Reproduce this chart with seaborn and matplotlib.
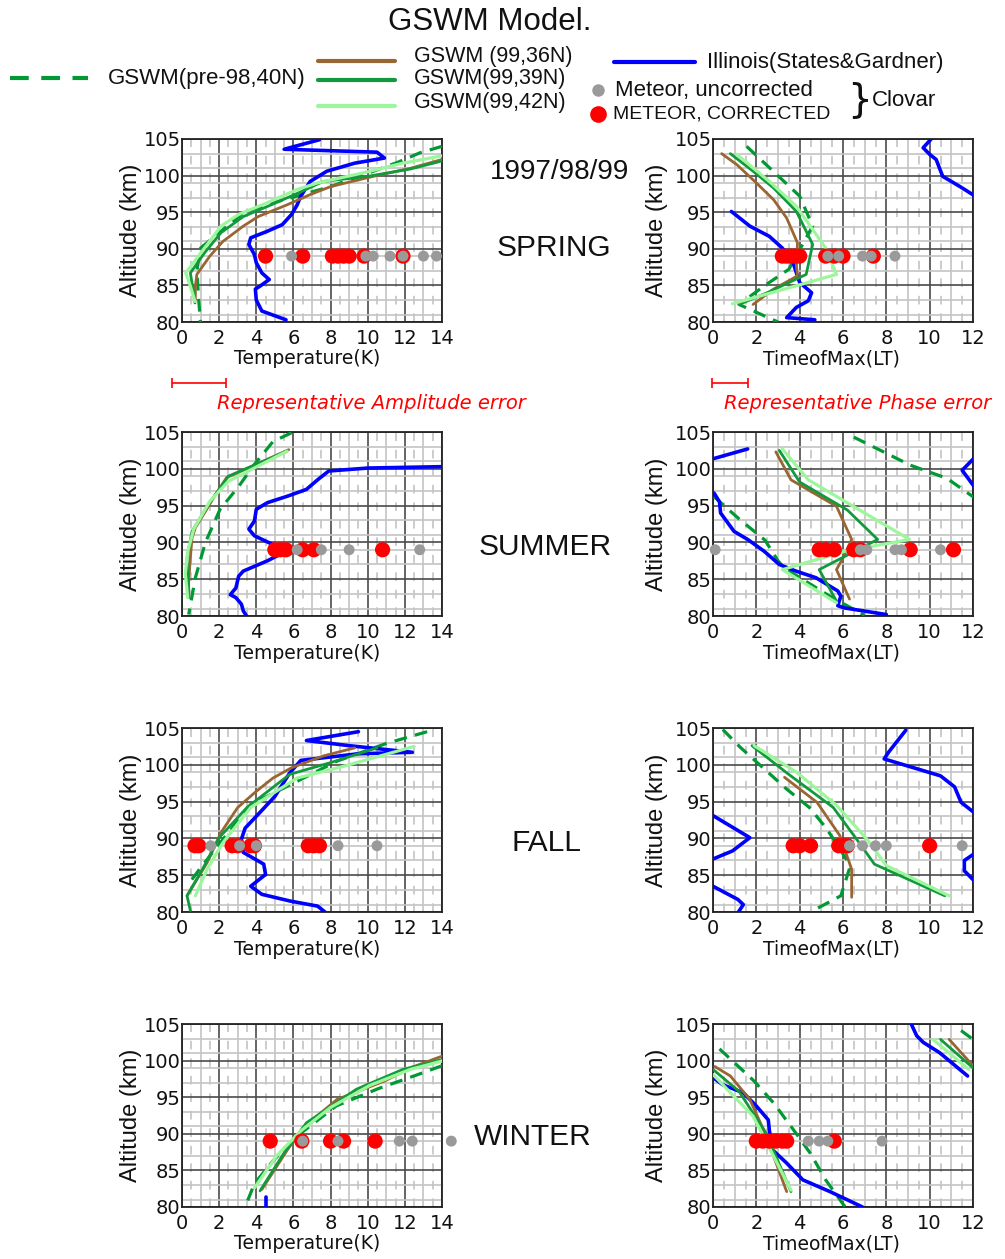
import numpy as np
import matplotlib
matplotlib.use("Agg")
import matplotlib.pyplot as plt
from matplotlib import font_manager
from matplotlib.ticker import MultipleLocator, FixedLocator
import seaborn as sns

# ------------------------------------------------------------------
# Profiles: (value, altitude km). Each series is a list of segments.
# Amplitude panels: Temperature (K); phase panels: Time of Max (LT)
# ------------------------------------------------------------------
METEOR_ALT = 89.0

# ---- SPRING ----
spr_amp_illinois = [[(7.4, 104.9), (5.5, 103.6), (10.5, 103.2), (10.9, 102.4), (9.3, 101.7),
                     (7.8, 100.6), (6.9, 99.2), (6.4, 97.2), (6.2, 96.0), (5.9, 94.7), (5.4, 93.3),
                     (4.6, 92.4), (3.7, 91.5), (3.6, 90.6), (3.9, 89.2), (4.0, 88.1), (4.3, 86.7),
                     (4.7, 85.8), (4.2, 84.9), (3.95, 84.5), (4.0, 83.0), (4.3, 81.5), (5.6, 80.3)]]
spr_amp_36n = [[(14.0, 102.2), (12.3, 101.0), (10.3, 99.9), (8.0, 98.5), (6.9, 97.4), (5.65, 96.0),
                (4.1, 94.4), (3.3, 93.1), (2.2, 91.0), (1.5, 89.0), (0.8, 86.5), (0.72, 84.9),
                (0.72, 83.0)]]
spr_amp_39n = [[(14.0, 102.0), (12.3, 100.9), (10.0, 99.9), (7.6, 99.2), (6.5, 97.9), (4.8, 96.0),
                (3.3, 94.4), (2.1, 92.2), (1.2, 89.4), (0.45, 86.7), (0.6, 84.4), (0.7, 82.6)]]
spr_amp_42n = [[(14.0, 102.7), (11.9, 101.7), (9.8, 100.4), (7.3, 99.0), (6.2, 98.1), (4.6, 96.3),
                (3.05, 94.7), (2.1, 93.1), (1.0, 89.4), (0.2, 86.7), (0.45, 84.9), (0.7, 82.8)]]
spr_amp_pre98 = [[(14.0, 104.0), (12.8, 103.1), (11.6, 101.8), (10.1, 100.4), (8.0, 98.5),
                  (6.2, 97.2), (4.5, 96.0), (3.3, 94.9), (2.2, 92.6), (1.0, 90.1), (0.8, 87.0),
                  (0.9, 83.0), (1.0, 79.9)]]
spr_amp_red = [4.5, 6.5, 8.1, 8.4, 8.7, 9.0, 9.8, 11.9]
spr_amp_gray = [5.9, 9.9, 10.3, 11.2, 11.9, 13.0, 13.7]

spr_ph_illinois = [[(10.1, 105.1), (9.7, 103.8), (10.0, 102.9), (10.3, 102.2), (10.6, 99.9),
                    (11.4, 98.5), (12.2, 97.0)],
                   [(0.85, 95.1), (1.7, 93.1), (2.6, 91.7), (3.2, 90.1), (3.7, 88.1), (3.85, 86.7),
                    (4.0, 85.4), (4.55, 84.0), (4.4, 82.9), (3.85, 82.0), (3.4, 80.6), (4.7, 80.3)]]
spr_ph_36n = [[(0.4, 103.0), (1.1, 101.5), (2.0, 99.0), (2.8, 96.7), (3.4, 94.2), (3.9, 90.8),
               (3.85, 87.6), (3.9, 86.3), (2.8, 84.5), (1.85, 82.4)]]
spr_ph_39n = [[(0.8, 103.0), (1.85, 100.6), (2.8, 98.3), (3.85, 95.1), (4.6, 90.6), (4.3, 86.5),
               (2.5, 84.0), (1.2, 82.4)]]
spr_ph_42n = [[(1.1, 102.9), (2.6, 99.2), (3.85, 95.8), (5.2, 90.1), (5.7, 86.5), (0.9, 82.5)]]
spr_ph_pre98 = [[(1.55, 104.0), (3.1, 99.7), (4.0, 97.2), (4.6, 93.1), (3.5, 87.2), (2.4, 85.0),
                 (1.2, 82.4), (3.0, 80.0)]]
spr_ph_red = [3.2, 3.4, 3.6, 3.8, 4.0, 5.2, 5.6, 6.0, 7.4]
spr_ph_gray = [5.3, 5.8, 6.9, 7.3, 8.4]

# ---- SUMMER ----
sum_amp_illinois = [[(14.2, 100.3), (10.0, 100.1), (7.9, 99.7), (7.3, 98.5), (6.7, 97.2), (5.7, 96.3),
                     (4.6, 95.4), (4.0, 94.5), (3.9, 92.9), (3.6, 91.8), (3.9, 90.9), (4.9, 89.7),
                     (5.3, 88.4), (4.6, 87.5), (3.3, 86.1), (3.05, 85.4), (2.9, 83.8), (2.6, 82.9),
                     (2.9, 82.5), (3.2, 81.6), (3.3, 80.7), (3.5, 79.9)]]
sum_amp_36n = [[(5.75, 102.6), (2.4, 98.8), (1.8, 96.5), (1.26, 94.2), (0.72, 92.0), (0.54, 90.6),
                (0.45, 87.9), (0.36, 84.7), (0.36, 82.5)]]
sum_amp_39n = [[(5.66, 102.4), (2.5, 99.0), (1.35, 94.9), (0.54, 91.5), (0.27, 87.9), (0.36, 82.5)]]
sum_amp_42n = [[(5.66, 102.4), (2.5, 98.3), (1.5, 95.6), (0.63, 91.8), (0.31, 88.8), (0.18, 85.7),
                (0.31, 82.5)]]
sum_amp_pre98 = [[(5.9, 104.9), (4.9, 103.7), (3.9, 100.6), (3.05, 97.6), (2.05, 94.5), (1.26, 90.0),
                  (0.72, 85.2), (0.36, 80.2)]]
sum_amp_red = [5.0, 5.3, 5.6, 6.5, 7.1, 10.8]
sum_amp_gray = [6.2, 7.5, 9.0, 12.8]

sum_ph_illinois = [[(0.05, 101.4), (1.6, 102.7)],
                   [(12.1, 101.6), (11.5, 99.8), (12.1, 97.4)],
                   [(0.05, 96.7), (0.3, 95.5), (0.35, 94.0), (0.97, 91.5), (1.6, 90.4), (2.36, 88.8),
                    (3.06, 87.0), (3.83, 86.1), (4.75, 85.2), (5.76, 83.4), (5.9, 82.7), (5.76, 81.4),
                    (6.06, 81.1), (8.0, 80.2)]]
sum_ph_36n = [[(2.9, 102.3), (3.6, 98.5), (5.7, 94.9), (6.4, 90.4), (6.0, 87.9), (5.7, 86.3),
               (6.3, 82.3)]]
sum_ph_39n = [[(3.06, 102.5), (4.0, 98.2), (6.2, 94.4), (7.6, 90.4), (4.9, 86.3), (5.7, 82.0)]]
sum_ph_42n = [[(3.2, 102.7), (4.4, 98.5), (9.07, 90.4), (6.1, 88.8), (3.2, 86.3), (5.7, 81.8)]]
sum_ph_pre98 = [[(6.5, 104.3), (9.1, 100.5), (10.8, 98.7), (12.1, 96.0)],
                [(0.05, 96.2), (1.2, 93.2), (2.4, 90.3), (3.0, 87.5), (3.3, 86.5), (5.5, 82.5),
                 (7.0, 80.1)]]
sum_ph_red = [4.9, 5.2, 5.6, 6.5, 6.8, 9.1, 11.1]
sum_ph_gray = [0.1, 6.8, 7.1, 8.4, 8.7, 10.5]

# ---- FALL ----
fal_amp_illinois = [[(9.5, 104.5), (6.7, 103.3), (9.0, 102.6), (12.4, 101.7), (9.5, 101.5),
                     (6.4, 100.6), (5.8, 98.9), (5.0, 95.7), (4.0, 93.0), (3.4, 91.4), (3.2, 89.9),
                     (3.3, 88.1), (4.4, 86.5), (4.5, 85.1), (3.7, 83.5), (4.3, 82.4), (5.8, 81.5),
                     (7.3, 80.8), (7.7, 80.0)]]
fal_amp_36n = [[(9.3, 102.3), (7.6, 101.2), (5.9, 99.6), (4.9, 98.2), (4.0, 96.4), (3.0, 94.2),
                (2.1, 90.8), (1.35, 86.7), (0.27, 82.2)]]
fal_amp_39n = [[(10.5, 102.3), (8.0, 100.3), (5.8, 98.7), (3.5, 94.2), (2.0, 90.1), (1.1, 85.8),
                (0.27, 82.2), (0.45, 80.2)]]
fal_amp_42n = [[(12.5, 102.5), (8.7, 99.8), (6.2, 98.2), (3.7, 94.2), (2.2, 89.4), (1.35, 85.8),
                (0.72, 82.2)]]
fal_amp_pre98 = [[(13.2, 104.5), (11.0, 102.9), (8.35, 100.5), (6.55, 98.2), (3.7, 94.6),
                  (2.06, 89.4), (1.0, 86.0), (0.5, 84.3)]]
fal_amp_red = [0.7, 0.9, 2.7, 3.0, 3.7, 3.9, 6.8, 7.1, 7.4]
fal_amp_gray = [1.55, 3.1, 4.0, 8.4, 10.5]

fal_ph_illinois = [[(8.9, 104.7), (8.1, 101.7), (7.9, 100.8), (10.5, 98.5), (11.15, 97.0),
                    (11.45, 94.9), (12.1, 93.4)],
                   [(0.0, 93.1), (1.7, 90.1), (0.9, 88.3), (0.0, 87.2)],
                   [(0.0, 83.5), (1.15, 81.7), (1.4, 81.0), (1.15, 79.9)],
                   [(12.1, 88.0), (11.6, 87.0), (11.6, 85.6), (12.1, 84.1)]]
fal_ph_36n = [[(3.3, 98.3), (4.8, 94.9), (5.85, 90.4), (6.4, 85.8), (6.4, 82.0)]]
fal_ph_39n = [[(1.8, 102.6), (3.45, 98.8), (5.55, 94.2), (6.8, 89.2), (7.45, 86.5), (10.7, 82.2)]]
fal_ph_42n = [[(1.9, 102.6), (3.85, 99.0), (5.7, 94.5), (7.1, 89.9), (8.0, 86.3), (10.9, 82.2)]]
fal_ph_pre98 = [[(0.45, 104.8), (1.25, 102.4), (3.4, 96.7), (4.45, 94.2), (5.25, 91.3), (6.15, 87.2),
                 (6.3, 85.9), (5.9, 82.2), (4.5, 80.0)]]
fal_ph_red = [3.7, 4.0, 4.5, 5.8, 6.0, 6.2, 10.0]
fal_ph_gray = [6.3, 6.9, 7.5, 8.0, 11.5]

# ---- WINTER ----
win_amp_illinois = [[(4.5, 81.4), (4.5, 80.1)]]
win_amp_36n = [[(14.1, 100.7), (12.4, 99.1), (10.9, 97.2), (8.35, 94.7), (6.55, 90.9), (5.7, 87.9),
                (4.3, 82.4)]]
win_amp_39n = [[(14.1, 100.2), (11.9, 98.8), (9.4, 96.1), (6.7, 91.5), (5.5, 87.4), (4.2, 82.2)]]
win_amp_42n = [[(14.1, 100.0), (12.3, 98.8), (10.1, 96.6), (8.0, 93.6), (6.4, 90.4), (5.1, 87.0),
                (3.9, 82.6)]]
win_amp_pre98 = [[(14.0, 99.3), (12.6, 98.0), (10.6, 96.2), (8.3, 93.8), (6.2, 89.7), (4.9, 86.3),
                  (3.9, 83.2), (3.4, 80.0)]]
win_amp_red = [4.75, 6.45, 8.0, 8.7, 10.4]
win_amp_gray = [6.5, 8.4, 11.7, 12.4, 14.5]

win_ph_illinois = [[(0.0, 97.7), (0.45, 96.7), (1.4, 95.6), (2.0, 93.8), (2.55, 91.9), (2.6, 90.5),
                    (2.75, 87.8), (3.4, 86.0), (4.15, 83.7), (5.4, 82.1), (6.9, 80.0)],
                   [(9.15, 105.0), (9.4, 103.4), (9.7, 102.5), (10.45, 101.1), (11.75, 97.9)]]
win_ph_36n = [[(0.08, 99.2), (0.8, 97.9), (1.7, 94.7), (2.4, 90.1), (3.4, 82.1)],
              [(10.9, 102.9), (12.0, 99.3)]]
win_ph_39n = [[(0.0, 98.8), (1.2, 95.8), (2.45, 90.1), (3.6, 82.1)],
              [(10.5, 102.9), (12.0, 99.0)]]
win_ph_42n = [[(0.0, 98.1), (1.85, 92.4), (3.6, 82.3)],
              [(10.15, 102.9), (11.8, 98.8)]]
win_ph_pre98 = [[(0.3, 101.6), (1.9, 97.2), (2.8, 94.2), (3.85, 90.0), (4.5, 87.3), (5.2, 83.7),
                 (6.1, 80.0)],
                [(11.45, 104.1), (12.0, 102.9)]]
win_ph_red = [2.0, 2.3, 2.6, 2.9, 3.2, 3.4, 5.6]
win_ph_gray = [4.4, 4.9, 5.3, 7.8]

# representative measurement errors
AMP_ERROR = 2.9     # K
PHASE_ERROR = 1.66  # hours

SEASONS = ["SPRING", "SUMMER", "FALL", "WINTER"]
ALT_TICKS = [80, 85, 90, 95, 100, 105]

# ------------------------------------------------------------------
# styling
# ------------------------------------------------------------------
C_36N = "#996633"
C_39N = "#119a3c"
C_42N = "#9cf79c"
C_PRE98 = "#009933"
C_ILL = "#0000ff"
C_GRAY = "#9a9a9a"
C_RED = "#ff0000"
MAJOR = "#4a4a4a"
MINOR = "#c4c4c4"

sns.set_style("white")
installed = {f.name for f in font_manager.fontManager.ttflist}
NARROW = "Liberation Sans Narrow" if "Liberation Sans Narrow" in installed else "Liberation Sans"
plt.rcParams["font.family"] = ["DejaVu Sans"]

W, H = 1005, 1259
fig = plt.figure(figsize=(W / 100, H / 100), dpi=100)
fig.patch.set_facecolor("white")


def px_axes(left, top, right, bottom):
    return fig.add_axes([left / W, 1 - bottom / H, (right - left) / W, (bottom - top) / H])


def draw_profiles(ax, segments, color, lw, ls="-"):
    for seg in segments:
        xs = [p[0] for p in seg]
        ys = [p[1] for p in seg]
        sns.lineplot(x=xs, y=ys, sort=False, estimator=None, color=color, lw=lw,
                     linestyle=ls, ax=ax, legend=False, zorder=3)


def draw_panel(ax, xmax, pre98, ill, m36, m39, m42, red, gray, xlabel, xlabel_x, ylabel_x):
    ax.set_xlim(0, xmax)
    ax.set_ylim(80, 105)
    ax.set_facecolor("white")
    # background grid: light minor lines, dashed half-steps, dark major lines
    ax.xaxis.set_major_locator(MultipleLocator(2))
    ax.yaxis.set_major_locator(FixedLocator(ALT_TICKS))
    ax.xaxis.set_minor_locator(MultipleLocator(1))
    ax.yaxis.set_minor_locator(FixedLocator(np.arange(81, 105, 2)))
    ax.grid(which="minor", color=MINOR, lw=1.2, zorder=0)
    ax.grid(which="major", color=MAJOR, lw=1.2, zorder=1)
    ax.vlines(np.arange(0.5, xmax, 1.0), 80, 105, colors=MINOR, lw=1.2,
              linestyles=(0, (5.2, 5.3)), zorder=0)
    ax.set_axisbelow(True)
    for s in ax.spines.values():
        s.set_color("#222222")
        s.set_linewidth(1.3)
        s.set_visible(True)
    ax.tick_params(which="both", length=0, labelsize=14, colors="#111111")
    ax.tick_params(axis="x", pad=5)
    ax.tick_params(axis="y", pad=1)

    draw_profiles(ax, pre98, C_PRE98, 2.3, (0, (4.0, 2.6)))
    draw_profiles(ax, ill, C_ILL, 2.6)
    draw_profiles(ax, m36, C_36N, 2.0)
    draw_profiles(ax, m39, C_39N, 2.0)
    draw_profiles(ax, m42, C_42N, 2.3)

    sns.scatterplot(x=red, y=[METEOR_ALT] * len(red), color=C_RED, s=120, marker="o",
                    edgecolor="none", ax=ax, legend=False, zorder=5, clip_on=False)
    sns.scatterplot(x=gray, y=[METEOR_ALT] * len(gray), color=C_GRAY, s=62, marker="o",
                    edgecolor="none", ax=ax, legend=False, zorder=6, clip_on=False)

    ax.set_xlabel(xlabel, fontsize=13.5, color="#111111")
    ax.xaxis.set_label_coords(xlabel_x, -0.15)
    ax.set_ylabel("Altitude (km)", fontsize=17, family=NARROW, color="#111111")
    ax.yaxis.set_label_coords(ylabel_x, 0.5)


rows = [(139, 322), (432, 616), (728, 912), (1024, 1207)]
amp_sets = [
    (spr_amp_pre98, spr_amp_illinois, spr_amp_36n, spr_amp_39n, spr_amp_42n, spr_amp_red, spr_amp_gray),
    (sum_amp_pre98, sum_amp_illinois, sum_amp_36n, sum_amp_39n, sum_amp_42n, sum_amp_red, sum_amp_gray),
    (fal_amp_pre98, fal_amp_illinois, fal_amp_36n, fal_amp_39n, fal_amp_42n, fal_amp_red, fal_amp_gray),
    (win_amp_pre98, win_amp_illinois, win_amp_36n, win_amp_39n, win_amp_42n, win_amp_red, win_amp_gray),
]
ph_sets = [
    (spr_ph_pre98, spr_ph_illinois, spr_ph_36n, spr_ph_39n, spr_ph_42n, spr_ph_red, spr_ph_gray),
    (sum_ph_pre98, sum_ph_illinois, sum_ph_36n, sum_ph_39n, sum_ph_42n, sum_ph_red, sum_ph_gray),
    (fal_ph_pre98, fal_ph_illinois, fal_ph_36n, fal_ph_39n, fal_ph_42n, fal_ph_red, fal_ph_gray),
    (win_ph_pre98, win_ph_illinois, win_ph_36n, win_ph_39n, win_ph_42n, win_ph_red, win_ph_gray),
]

amp_axes, ph_axes = [], []
for (top, bottom), aset, pset in zip(rows, amp_sets, ph_sets):
    a = px_axes(182, top, 442, bottom)
    draw_panel(a, 14, *aset, "Temperature(K)", 0.48, -0.155)
    amp_axes.append(a)
    p = px_axes(713, top, 973, bottom)
    draw_panel(p, 12, *pset, "TimeofMax(LT)", 0.455, -0.172)
    ph_axes.append(p)

# representative error bars under the spring panels
ERR_ALT = 71.7
amp_axes[0].errorbar(0.92, ERR_ALT, xerr=AMP_ERROR / 2, color=C_RED, lw=1.2, capsize=3.5,
                     capthick=1.2, clip_on=False, zorder=10)
ph_axes[0].errorbar(0.78, ERR_ALT, xerr=PHASE_ERROR / 2, color=C_RED, lw=1.2, capsize=3.5,
                    capthick=1.2, clip_on=False, zorder=10)

# ------------------------------------------------------------------
# figure-level text and legend (pixel coordinates)
# ------------------------------------------------------------------
lay = fig.add_axes([0, 0, 1, 1], zorder=-5)
lay.set_xlim(0, W)
lay.set_ylim(H, 0)
lay.axis("off")

TXT = "#111111"
lay.text(490, 22, "GSWM Model.", fontsize=22.5, family=NARROW, ha="center", va="center", color=TXT)

# legend keys
lay.plot([10, 88], [78, 78], color=C_PRE98, lw=3, linestyle=(0, (4.5, 3.0)))
lay.text(108, 78, "GSWM(pre-98,40N)", fontsize=16, family=NARROW, va="center", color=TXT)
lay.plot([318, 395], [61, 61], color=C_36N, lw=3)
lay.text(414, 56, "GSWM (99,36N)", fontsize=15.5, family=NARROW, va="center", color=TXT)
lay.plot([318, 395], [80, 80], color=C_39N, lw=3)
lay.text(414, 78, "GSWM(99,39N)", fontsize=15.5, family=NARROW, va="center", color=TXT)
lay.plot([318, 395], [106, 106], color=C_42N, lw=3)
lay.text(414, 102, "GSWM(99,42N)", fontsize=15.5, family=NARROW, va="center", color=TXT)
lay.plot([614, 695], [62, 62], color=C_ILL, lw=3)
lay.text(707, 62, "Illinois(States&Gardner)", fontsize=16, family=NARROW, va="center", color=TXT)
lay.plot([598], [90], marker="o", ms=9, color=C_GRAY, mec="none")
lay.text(615, 90, "Meteor, uncorrected", fontsize=16, family=NARROW, va="center", color=TXT)
lay.plot([598], [114], marker="o", ms=12, color=C_RED, mec="none")
lay.text(613, 114, "METEOR, CORRECTED", fontsize=14, family=NARROW, va="center", color=TXT)
lay.text(860, 100, "}", fontsize=28, va="center", ha="center", color=TXT)
lay.text(872, 100, "Clovar", fontsize=16, family=NARROW, va="center", color=TXT)

# year and season labels between the columns
lay.text(560, 172, "1997/98/99", fontsize=20, family=NARROW, ha="center", va="center", color=TXT)
season_pos = [(554, 248), (545, 547), (546, 843), (533, 1137)]
for name, (x, y) in zip(SEASONS, season_pos):
    lay.text(x, y, name, fontsize=21.5, family=NARROW, ha="center", va="center", color=TXT)

lay.text(217, 403, "Representative Amplitude error", fontsize=14, style="italic", color=C_RED,
         va="center")
lay.text(724, 403, "Representative Phase error", fontsize=14, style="italic", color=C_RED,
         va="center")

fig.savefig("out.png", dpi=100, facecolor="white")
